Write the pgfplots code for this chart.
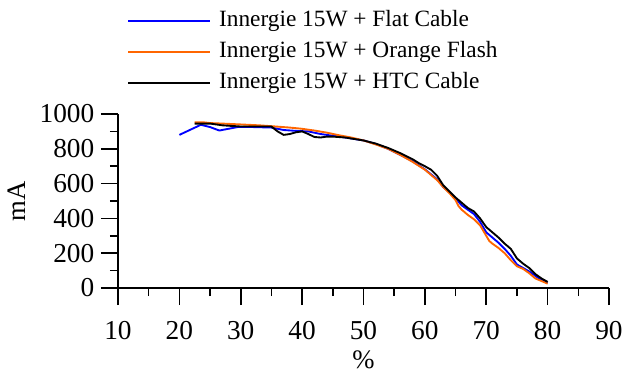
\documentclass[border=0pt]{standalone}
\usepackage{pgfplots}
\pgfplotsset{compat=1.18}
\usepackage{fontspec}
\setmainfont{Liberation Serif}
\definecolor{cblue}{RGB}{0,0,255}
\definecolor{corange}{RGB}{255,102,0}
\begin{document}
\begin{tikzpicture}
\useasboundingbox (-88.5pt,-66pt) rectangle (391.5pt,216pt);
\begin{axis}[
  scale only axis, width=368.25pt, height=130.5pt,
  xmin=10, xmax=90, ymin=0, ymax=1000,
  axis lines=left, axis line style={-, line width=1.2pt},
  xtick={10,20,...,90}, ytick={0,200,...,1000},
  minor x tick num=1, minor y tick num=1,
  tick align=outside, major tick length=12.75pt, minor tick length=6pt,
  every tick/.style={line width=1.2pt, black},
  /pgf/number format/assume math mode=true,
  /pgf/number format/1000 sep={},
  ticklabel style={font=\fontsize{20.5}{24}\selectfont},
  xticklabel style={yshift=-8.5pt},
  yticklabel style={xshift=-1.5pt},
  xlabel={\%}, ylabel={mA},
  label style={font=\fontsize{20}{24}\selectfont},
  xlabel style={at={(axis description cs:0.5,-0.4138)}, anchor=center},
  ylabel style={at={(axis description cs:-0.2057,0.5)}, anchor=center},
  legend style={at={(axis description cs:0.0183,1.596)}, anchor=north west,
    draw=none, fill=none, inner sep=0pt, row sep=7.25pt, column sep=6pt,
    font=\fontsize{17.5}{21}\selectfont,
    nodes={inner sep=0pt, text height=12pt, text depth=4pt}},
  legend cell align=left,
  legend image code/.code={\draw[#1] (0pt,0pt) -- (61.5pt,0pt);},
  every axis plot/.append style={line width=1.4pt},
]
\addplot[cblue] coordinates {
(20,880) (23.5,938) (25,925) (26.5,905) (28,915) (29.5,925) (32,925) (35,922)
(37,908) (39,903) (41,900) (43,885) (45,875) (47,865) (50,848) (52,828)
(54,800) (56,765) (58,728) (60,682) (62,625) (63,580) (64,550) (65,515)
(66,475) (67,450) (68,425) (69,380) (70,320) (71,290) (72,260) (73,225)
(74,185) (75,135) (76,115) (77,95) (78,70) (79,45) (80,30)
};
\addlegendentry{Innergie 15W + Flat Cable}
\addplot[corange] coordinates {
(22.5,952) (24,952) (25,948) (27,945) (30,940) (33,935) (35,930) (38,922)
(40,915) (42,905) (44,893) (46,878) (48,865) (50,848) (52,825) (54,800)
(56,765) (58,725) (60,680) (61,650) (62,620) (63,580) (64,545) (65,505)
(65.5,470) (66,450) (67,420) (68,395) (69,360) (70,300) (70.5,270) (71,255)
(72,230) (73,200) (74,160) (75,125) (76,110) (77,85) (78,55) (79,40) (80,25)
};
\addlegendentry{Innergie 15W + Orange Flash}
\addplot[black] coordinates {
(22.5,945) (25,945) (27,935) (30,928) (33,928) (35,928) (36,900) (37,880)
(38,885) (39,895) (40,900) (41,885) (42,868) (43,865) (44,870) (45,870)
(47,865) (50,848) (52,830) (54,805) (56,775) (58,740) (59,718) (60,700)
(61,680) (62,645) (63,590) (64,555) (65,520) (66,490) (67,460) (68,440)
(69,400) (70,350) (71,320) (72,290) (73,255) (74,225) (75,170) (76,140)
(77,115) (78,80) (79,55) (80,35)
};
\addlegendentry{Innergie 15W + HTC Cable}
\end{axis}
\end{tikzpicture}
\end{document}
